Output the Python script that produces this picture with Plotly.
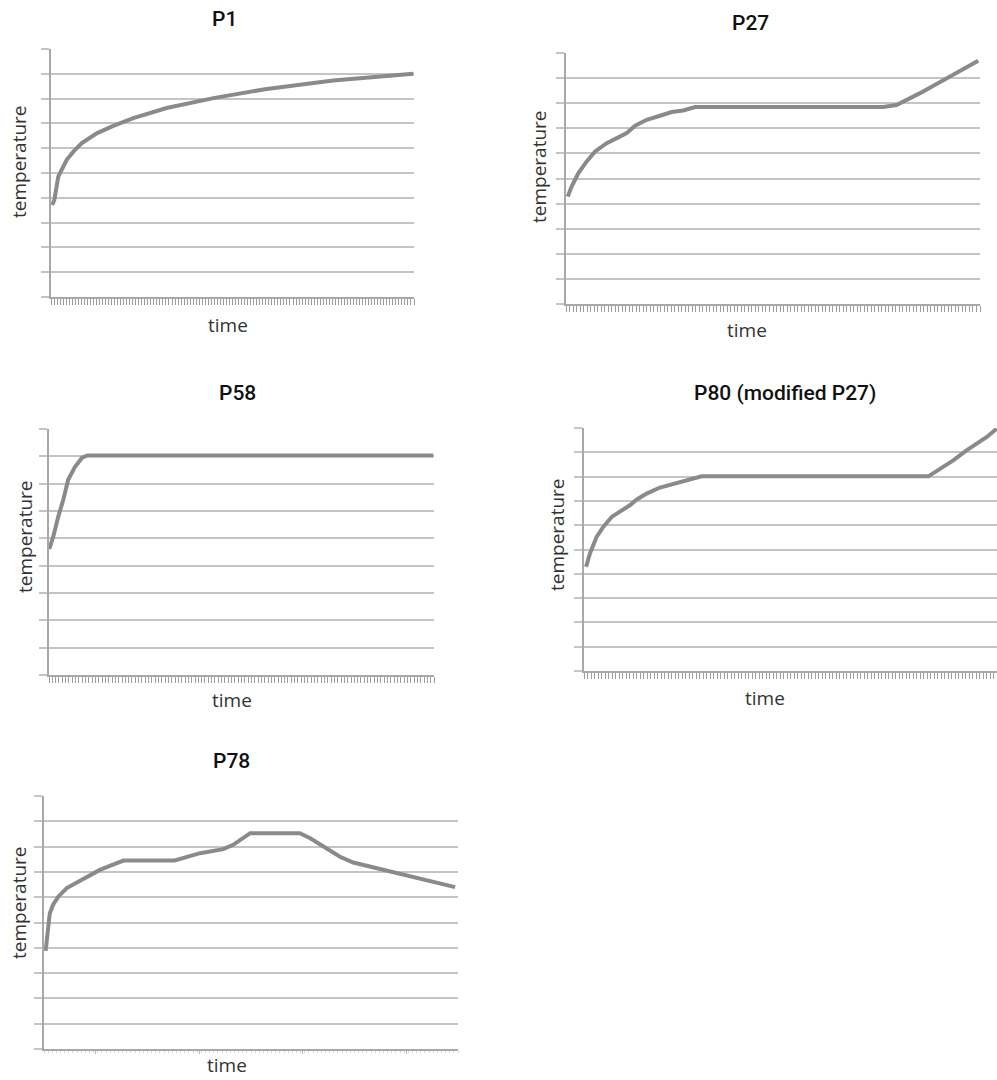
import plotly.graph_objects as go

W, H = 997, 1080

# ---------------- data (time steps, temperature in gridline units) ----------------
p1_time = [0.4, 1.1, 2.4, 4.1, 5.2, 7.4, 10.1, 15.1, 20.6, 27.2, 38.2, 53.7, 71.3, 93.3, 119.8]
p1_temp = [3.71, 3.91, 4.85, 5.26, 5.53, 5.86, 6.2, 6.6, 6.9, 7.21, 7.62, 8.02, 8.39, 8.73, 9.0]

p27_time = [0.5, 1.6, 3.5, 5.9, 8.3, 11.6, 14.5, 17.3, 19.7, 23.0, 26.8, 30.1, 33.4, 36.8, 90.4, 94.2, 100.9, 110.4, 117.5]
p27_temp = [4.28, 4.68, 5.21, 5.68, 6.08, 6.41, 6.61, 6.81, 7.1, 7.34, 7.5, 7.65, 7.71, 7.85, 7.85, 7.93, 8.4, 9.13, 9.69]

p58_time = [0.1, 1.3, 2.8, 4.3, 5.8, 7.8, 9.9, 11.5, 115.8]
p58_temp = [4.61, 5.07, 5.8, 6.41, 7.15, 7.61, 7.94, 8.03, 8.03]

p80_time = [0.6, 1.7, 3.6, 5.5, 7.9, 10.3, 13.1, 15.1, 17.9, 21.7, 25.5, 29.3, 33.6, 98.4, 100.3, 105.5, 109.3, 115.1, 117.9]
p80_temp = [4.29, 4.84, 5.52, 5.93, 6.34, 6.55, 6.82, 7.06, 7.3, 7.55, 7.71, 7.85, 8.01, 8.01, 8.19, 8.67, 9.08, 9.63, 9.97]

p78_time = [0.4, 0.9, 1.4, 2.2, 3.5, 5.5, 8.3, 10.7, 13.5, 15.9, 19.2, 31.6, 34.5, 37.7, 43.3, 45.7, 49.8,
            61.8, 64.3, 69.1, 71.5, 74.7, 80.4, 86.0, 94.0, 99.3]
p78_temp = [3.88, 4.58, 5.37, 5.7, 6.03, 6.36, 6.62, 6.82, 7.08, 7.24, 7.45, 7.45, 7.6, 7.74, 7.9, 8.07, 8.53,
            8.53, 8.33, 7.87, 7.6, 7.37, 7.15, 6.95, 6.62, 6.4]
p78_ticks = [12.5, 37.5, 62.5, 87.5]

titles = ["P1", "P27", "P58", "P80 (modified P27)", "P78"]
x_label = "time"
y_label = "temperature"

# ---------------- layout geometry (pixels) ----------------
panels = [
    dict(t=p1_time, v=p1_temp, box=(51, 414, 49, 297), n=120, ymax=10,
         tp=(224, 19), xp=(228, 325), yp=(19, 162)),
    dict(t=p27_time, v=p27_temp, box=(566, 980, 53, 304), n=118, ymax=10,
         tp=(750, 23), xp=(747, 330), yp=(539, 167)),
    dict(t=p58_time, v=p58_temp, box=(49, 434, 429, 675), n=116, ymax=9,
         tp=(237, 393), xp=(232, 700), yp=(25, 537)),
    dict(t=p80_time, v=p80_temp, box=(584, 997, 428, 671), n=118, ymax=10,
         tp=(785, 393), xp=(765, 698), yp=(557, 535)),
    dict(t=p78_time, v=p78_temp, box=(44, 458, 796, 1049), n=100, ymax=10,
         tp=(231, 761), xp=(227, 1065), yp=(19, 903), ticks=p78_ticks),
]

LINE = "#8a8a8a"
GRID = "#c4c4c4"
AXIS = "#a8a8a8"

fig = go.Figure()
annotations = []
layout = {}

for i, p in enumerate(panels):
    k = "" if i == 0 else str(i + 1)
    l, r, t, b = p["box"]
    fig.add_trace(go.Scatter(
        x=p["t"], y=p["v"], mode="lines",
        line=dict(color=LINE, width=4),
        xaxis="x" + k, yaxis="y" + k, showlegend=False, hoverinfo="skip",
        cliponaxis=False,
    ))
    xa = dict(
        domain=[l / W, r / W], anchor="y" + k, range=[0, p["n"]],
        showgrid=False, zeroline=False, showline=True, linecolor=AXIS, linewidth=1.5,
        showticklabels=False, ticks="outside", ticklen=6, tickwidth=1.4, tickcolor="#9c9c9c",
    )
    if "ticks" in p:
        xa.update(tickmode="array", tickvals=p["ticks"], ticklen=3, tickwidth=1, tickcolor="#bdbdbd",
                  minor=dict(ticks="outside", ticklen=2, dtick=1, tickcolor="#d6d6d6", tickwidth=1))
    else:
        xa.update(tickmode="linear", tick0=0, dtick=1)
    ya = dict(
        domain=[1 - b / H, 1 - t / H], anchor="x" + k, range=[0, p["ymax"]],
        tickmode="linear", tick0=0, dtick=1,
        showgrid=True, gridcolor=GRID, gridwidth=1.5, zeroline=False,
        showline=True, linecolor=AXIS, linewidth=1.5,
        showticklabels=False, ticks="outside", ticklen=8, tickwidth=1.5, tickcolor=GRID,
    )
    layout["xaxis" + k] = xa
    layout["yaxis" + k] = ya

    annotations.append(dict(text=titles[i], x=p["tp"][0] / W, y=1 - p["tp"][1] / H,
                            xref="paper", yref="paper", xanchor="center", yanchor="middle",
                            showarrow=False,
                            font=dict(family="Roboto", size=21, color="#111", weight=500)))
    annotations.append(dict(text=x_label, x=p["xp"][0] / W, y=1 - p["xp"][1] / H,
                            xref="paper", yref="paper", xanchor="center", yanchor="middle",
                            showarrow=False, font=dict(family="Open Sans", size=19, color="#333")))
    annotations.append(dict(text=y_label, x=p["yp"][0] / W, y=1 - p["yp"][1] / H,
                            xref="paper", yref="paper", xanchor="center", yanchor="middle",
                            showarrow=False, textangle=-90,
                            font=dict(family="Open Sans", size=19, color="#333")))

fig.update_layout(
    width=W, height=H, margin=dict(l=0, r=0, t=0, b=0),
    paper_bgcolor="white", plot_bgcolor="white",
    annotations=annotations, **layout,
)

fig.write_html("out.html")
